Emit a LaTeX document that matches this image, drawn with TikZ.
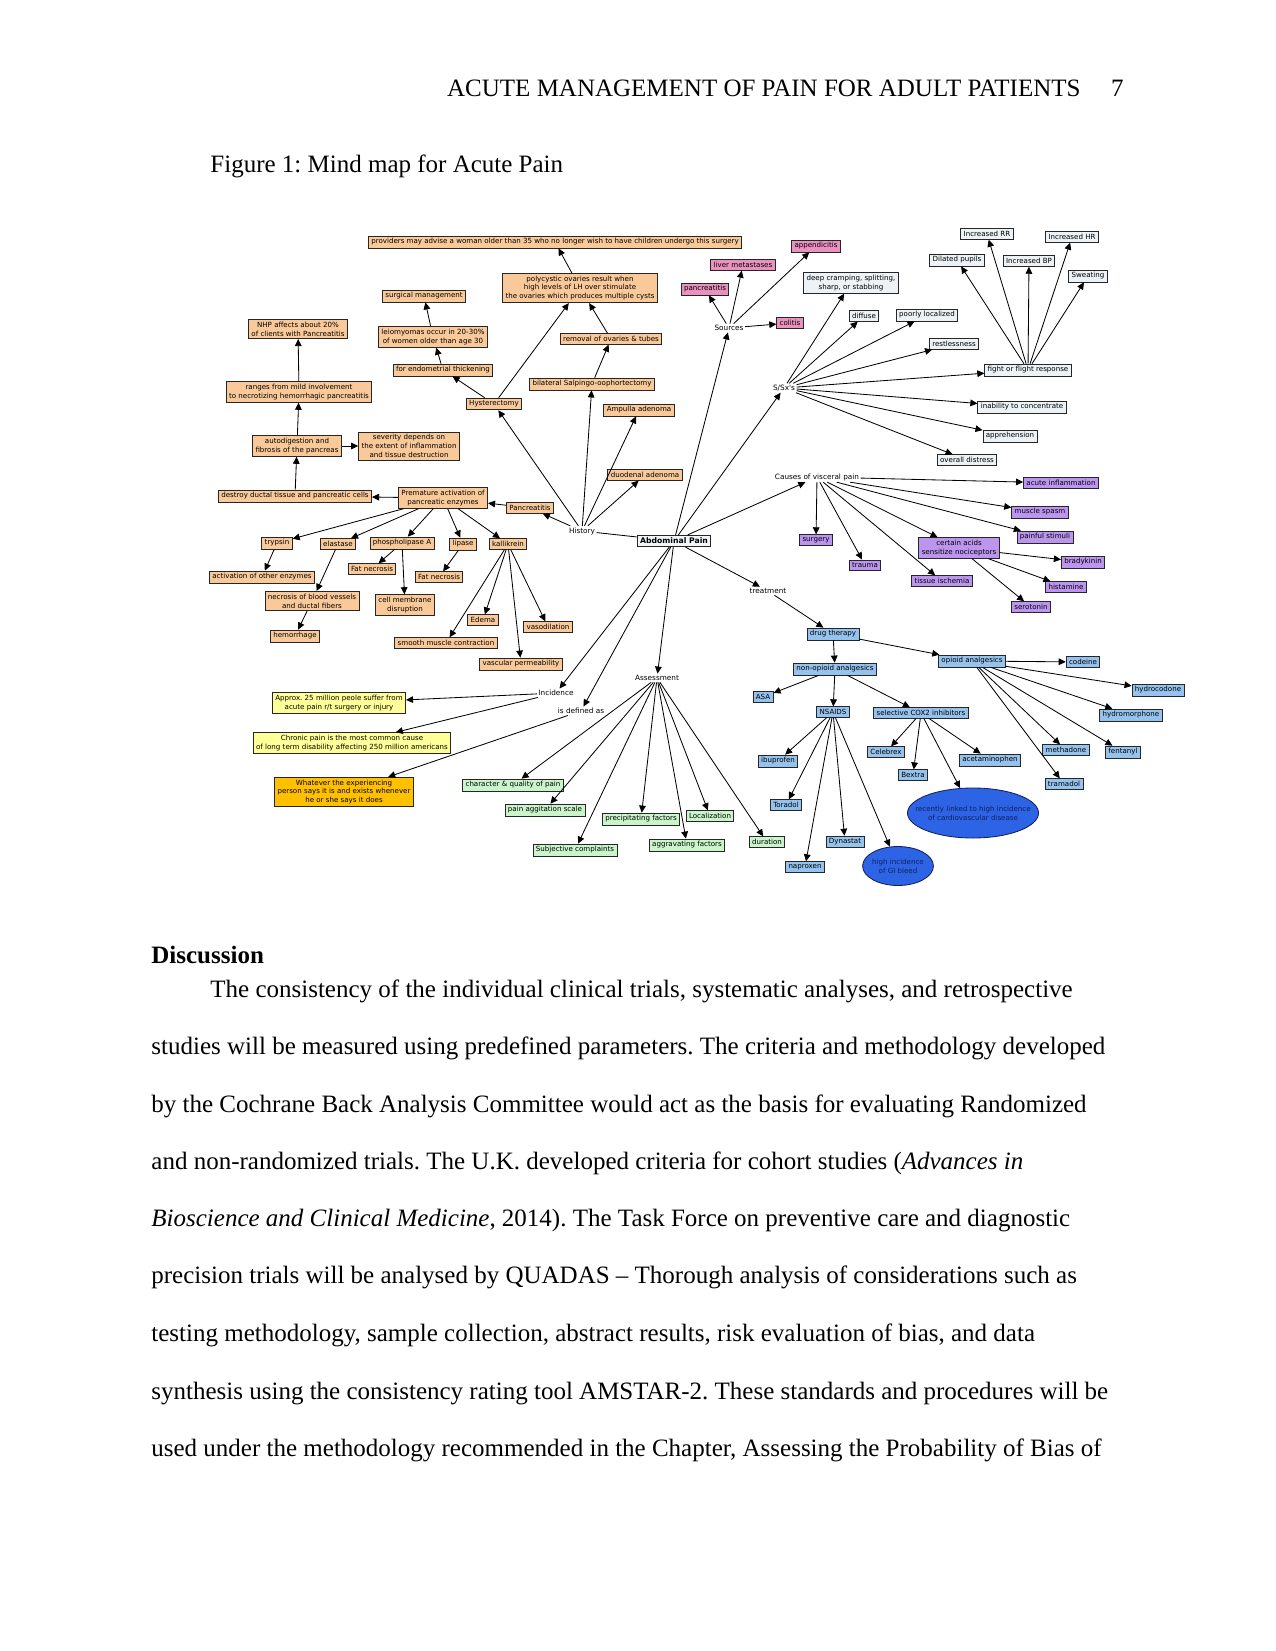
\documentclass[tikz,border=0pt]{standalone}
\usepackage{fontspec}
\setmainfont{Liberation Serif}
\newfontfamily\mapfont{DejaVu Sans}
\usetikzlibrary{arrows.meta,shapes.geometric}
\frenchspacing
\definecolor{histfill}{RGB}{249,201,153}
\definecolor{srcfill}{RGB}{234,146,190}
\definecolor{sxfill}{RGB}{236,242,245}
\definecolor{causefill}{RGB}{188,150,238}
\definecolor{rxfill}{RGB}{150,195,238}
\definecolor{ovalfill}{RGB}{45,100,230}
\definecolor{ovaltext}{RGB}{20,30,90}
\definecolor{asfill}{RGB}{202,245,202}
\definecolor{incfill}{RGB}{255,255,153}
\definecolor{deffill}{RGB}{255,192,0}
\definecolor{rootfill}{RGB}{242,246,249}
\begin{document}
\begin{tikzpicture}[x=0.48pt,y=-0.48pt,
    >={Triangle[length=3.4pt,width=3.2pt]},
    box/.style={draw=black!85,line width=0.4pt,inner xsep=1.4pt,inner ysep=1.2pt,align=center,
      font=\mapfont\fontsize{3.4}{4.2}\selectfont},
    histbox/.style={box,fill=histfill},
    srcbox/.style={box,fill=srcfill},
    sxbox/.style={box,fill=sxfill},
    causebox/.style={box,fill=causefill},
    rxbox/.style={box,fill=rxfill},
    rxoval/.style={ellipse,draw=ovaltext,line width=0.4pt,fill=ovalfill,align=center,inner ysep=0pt,
      text=ovaltext,font=\mapfont\fontsize{3.4}{4.2}\selectfont},
    asbox/.style={box,fill=asfill},
    incbox/.style={box,fill=incfill},
    defbox/.style={box,fill=deffill},
    link/.style={inner sep=0.6pt,font=\mapfont\fontsize{3.5}{4.2}\selectfont},
    conn/.style={->,line width=0.4pt},
    bodyline/.style={anchor=base west,inner sep=0pt,font=\fontsize{12}{14}\selectfont}]
\useasboundingbox (0,0) rectangle (1275,1651);

% page text
\node[anchor=base east,inner sep=0pt,font=\fontsize{12}{14}\selectfont] (head) at (1081,97) {ACUTE MANAGEMENT OF PAIN FOR ADULT PATIENTS};
\node[anchor=base east,inner sep=0pt,font=\fontsize{12}{14}\selectfont] (pageno) at (1124,97) {7};
\node[bodyline] (caption) at (210,173) {Figure 1: Mind map for Acute Pain};
\node[bodyline,font=\fontsize{12}{14}\bfseries] (disc) at (151,963) {Discussion};
\node[bodyline] (l1) at (210,997) {The consistency of the individual clinical trials, systematic analyses, and retrospective};
\node[bodyline] (l2) at (151,1054) {studies will be measured using predefined parameters. The criteria and methodology developed};
\node[bodyline] (l3) at (151,1112) {by the Cochrane Back Analysis Committee would act as the basis for evaluating Randomized};
\node[bodyline] (l4) at (151,1169) {and non-randomized trials. The U.K. developed criteria for cohort studies (\textit{Advances in}};
\node[bodyline] (l5) at (151,1226) {\textit{Bioscience and Clinical Medicine}, 2014). The Task Force on preventive care and diagnostic};
\node[bodyline] (l6) at (151,1283) {precision trials will be analysed by QUADAS – Thorough analysis of considerations such as};
\node[bodyline] (l7) at (151,1341) {testing methodology, sample collection, abstract results, risk evaluation of bias, and data};
\node[bodyline] (l8) at (151,1399) {synthesis using the consistency rating tool AMSTAR-2. These standards and procedures will be};
\node[bodyline] (l9) at (151,1456) {used under the methodology recommended in the Chapter, Assessing the Probability of Bias of};

% root and linking phrases
\node[box,fill=rootfill,line width=0.6pt,font=\mapfont\fontsize{3.7}{4.2}\bfseries] (ap) at (674,541) {Abdominal Pain};
\node[link] (hist) at (582,531) {History};
\node[link] (src) at (729,328) {Sources};
\node[link] (ssx) at (784,388) {S/Sx's};
\node[link] (caus) at (817,477) {Causes of visceral pain};
\node[link] (treat) at (768,591) {treatment};
\node[link] (assess) at (657,678) {Assessment};
\node[link] (incid) at (556,693) {Incidence};
\node[link] (defas) at (581,711) {is defined as};

% history branch
\node[histbox] (prov) at (555,242) {providers may advise a woman older than 35 who no longer wish to have children undergo this surgery};
\node[histbox] (surg) at (424,296) {surgical management};
\node[histbox] (nhp) at (298,329) {NHP affects about 20\%\\of clients with Pancreatitis};
\node[histbox] (leio) at (433,337) {leiomyomas occur in 20-30\%\\of women older than age 30};
\node[histbox] (endo) at (443,370) {for endometrial thickening};
\node[histbox] (range) at (299,392) {ranges from mild involvement\\to necrotizing hemorrhagic pancreatitis};
\node[histbox] (hyst) at (494,404) {Hysterectomy};
\node[histbox] (auto) at (297,446) {autodigestion and\\fibrosis of the pancreas};
\node[histbox] (sev) at (409,446) {severity depends on\\the extent of inflammation\\and tissue destruction};
\node[histbox] (poly) at (580,288) {polycystic ovaries result when\\high levels of LH over stimulate\\the ovaries which produces multiple cysts};
\node[histbox] (remov) at (611,339) {removal of ovaries \& tubes};
\node[histbox] (bso) at (592,384) {bilateral Salpingo-oophortectomy};
\node[histbox] (ampul) at (639,410) {Ampulla adenoma};
\node[histbox] (duod) at (645,475) {duodenal adenoma};
\node[histbox] (destr) at (295,496) {destroy ductal tissue and pancreatic cells};
\node[histbox] (prem) at (443,498) {Premature activation of\\pancreatic enzymes};
\node[histbox] (pancr) at (530,508) {Pancreatitis};
\node[histbox] (tryp) at (277,543) {trypsin};
\node[histbox] (elast) at (338,544) {elastase};
\node[histbox] (phos) at (402,543) {phospholipase A};
\node[histbox] (lip) at (463,544) {lipase};
\node[histbox] (kall) at (508,544) {kallikrein};
\node[histbox] (actv) at (262,577) {activation of other enzymes};
\node[histbox] (fatA) at (372,569) {Fat necrosis};
\node[histbox] (fatB) at (439,577) {Fat necrosis};
\node[histbox] (necr) at (312,601) {necrosis of blood vessels\\and ductal fibers};
\node[histbox] (cell) at (405,605) {cell membrane\\disruption};
\node[histbox] (hem) at (295,636) {hemorrhage};
\node[histbox] (edema) at (483,620) {Edema};
\node[histbox] (vaso) at (548,627) {vasodilation};
\node[histbox] (smooth) at (446,643) {smooth muscle contraction};
\node[histbox] (vperm) at (521,664) {vascular permeability};

% sources
\node[srcbox] (liver) at (743,265) {liver metastases};
\node[srcbox] (appen) at (816,246) {appendicitis};
\node[srcbox] (pancs) at (705,289) {pancreatitis};
\node[srcbox] (colit) at (790,323) {colitis};

% signs and symptoms
\node[sxbox] (cramp) at (851,283) {deep cramping, splitting,\\sharp, or stabbing};
\node[sxbox] (diff) at (864,316) {diffuse};
\node[sxbox] (poor) at (927,315) {poorly localized};
\node[sxbox] (restl) at (954,344) {restlessness};
\node[sxbox] (fight) at (1028,370) {fight or flight response};
\node[sxbox] (inab) at (1022,407) {inability to concentrate};
\node[sxbox] (appr) at (1010,436) {apprehension};
\node[sxbox] (distr) at (967,460) {overall distress};
\node[sxbox] (pupil) at (957,260) {Dilated pupils};
\node[sxbox] (rr) at (987,234) {Increased RR};
\node[sxbox] (bp) at (1029,261) {Increased BP};
\node[sxbox] (hr) at (1072,237) {Increased HR};
\node[sxbox] (sweat) at (1088,276) {Sweating};

% causes
\node[causebox] (acute) at (1061,483) {acute inflammation};
\node[causebox] (spasm) at (1040,512) {muscle spasm};
\node[causebox] (stim) at (1045,537) {painful stimuli};
\node[causebox] (acids) at (959,548) {certain acids\\sensitize nociceptors};
\node[causebox] (brady) at (1083,562) {bradykinin};
\node[causebox] (hista) at (1066,587) {histamine};
\node[causebox] (sero) at (1031,607) {serotonin};
\node[causebox] (isch) at (942,581) {tissue ischemia};
\node[causebox] (surgy) at (816,540) {surgery};
\node[causebox] (traum) at (865,565) {trauma};

% treatment
\node[rxbox] (drug) at (833,634) {drug therapy};
\node[rxbox] (nonop) at (835,669) {non-opioid analgesics};
\node[rxbox] (opio) at (972,661) {opioid analgesics};
\node[rxbox] (code) at (1083,662) {codeine};
\node[rxbox] (hcod) at (1158,690) {hydrocodone};
\node[rxbox] (hmor) at (1131,715) {hydromorphone};
\node[rxbox] (cox) at (921,713) {selective COX2 inhibitors};
\node[rxbox] (celeb) at (886,752) {Celebrex};
\node[rxbox] (bext) at (913,775) {Bextra};
\node[rxbox] (acet) at (990,760) {acetaminophen};
\node[rxbox] (meth) at (1066,750) {methadone};
\node[rxbox] (fent) at (1123,752) {fentanyl};
\node[rxbox] (tram) at (1064,784) {tramadol};
\node[rxbox] (asa) at (763,697) {ASA};
\node[rxbox] (nsaid) at (833,712) {NSAIDS};
\node[rxbox] (ibu) at (778,761) {ibuprofen};
\node[rxbox] (tora) at (786,805) {Toradol};
\node[rxbox] (napr) at (805,867) {naproxen};
\node[rxbox] (dyna) at (845,842) {Dynastat};
\node[rxoval,inner xsep=-6pt,minimum width=62.9pt,minimum height=24pt] (cardio) at (973,813) {recently linked to high incidence\\of cardiovascular disease};
\node[rxoval,inner xsep=-0.5pt,minimum width=34pt,minimum height=18.7pt] (gib) at (898,866) {high incidence\\of GI bleed};

% assessment
\node[asbox] (charq) at (513,785) {character \& quality of pain};
\node[asbox] (agit) at (545,810) {pain aggitation scale};
\node[asbox] (subj) at (575,850) {Subjective complaints};
\node[asbox] (precip) at (641,819) {precipitating factors};
\node[asbox] (local) at (710,816) {Localization};
\node[asbox] (aggr) at (687,845) {aggravating factors};
\node[asbox] (durat) at (767,842) {duration};

% incidence and definition
\node[incbox] (approx) at (339,703) {Approx. 25 million peole suffer from\\acute pain r/t surgery or injury};
\node[incbox] (chron) at (352,743) {Chronic pain is the most common cause\\of long term disability affecting 250 million americans};
\node[defbox] (whatev) at (344,792) {Whatever the experiencing\\person says it is and exists whenever\\he or she says it does};

% connectors
\draw[line width=0.4pt] (ap) -- (hist);
\foreach \t in {src,ssx,caus,treat,assess,incid,defas} \draw[conn] (ap) -- (\t);
\foreach \t in {pancr,hyst,bso,ampul,duod} \draw[conn] (hist) -- (\t);
\draw[conn] (hyst) -- (endo);
\draw[conn] (hyst) -- (poly);
\draw[conn] (endo) -- (leio);
\draw[conn] (leio) -- (surg);
\draw[conn] (bso) -- (remov);
\draw[conn] (remov) -- (poly);
\draw[conn] (poly) -- (prov);
\draw[conn] (pancr) -- (prem);
\foreach \t in {destr,tryp,elast,phos,lip,kall} \draw[conn] (prem) -- (\t);
\draw[conn] (destr) -- (auto);
\draw[conn] (auto) -- (range);
\draw[conn] (auto) -- (sev);
\draw[conn] (range) -- (nhp);
\draw[conn] (tryp) -- (actv);
\draw[conn] (elast) -- (necr);
\draw[conn] (necr) -- (hem);
\draw[conn] (phos) -- (fatA);
\draw[conn] (phos) -- (cell);
\draw[conn] (lip) -- (fatB);
\foreach \t in {smooth,edema,vperm,vaso} \draw[conn] (kall) -- (\t);
\foreach \t in {pancs,liver,appen,colit} \draw[conn] (src) -- (\t);
\foreach \t in {cramp,diff,poor,restl,fight,inab,appr,distr} \draw[conn] (ssx) -- (\t);
\foreach \t in {pupil,rr,bp,hr,sweat} \draw[conn] (fight) -- (\t);
\foreach \t in {acute,spasm,stim,acids,isch,traum,surgy} \draw[conn] (caus) -- (\t);
\foreach \t in {brady,hista,sero} \draw[conn] (acids) -- (\t);
\draw[conn] (treat) -- (drug);
\draw[conn] (drug) -- (nonop);
\draw[conn] (drug) -- (opio);
\foreach \t in {asa,nsaid,cox} \draw[conn] (nonop) -- (\t);
\foreach \t in {ibu,tora,napr,dyna,gib} \draw[conn] (nsaid) -- (\t);
\foreach \t in {celeb,bext,cardio,acet} \draw[conn] (cox) -- (\t);
\foreach \t in {code,hcod,hmor,fent,meth,tram} \draw[conn] (opio) -- (\t);
\foreach \t in {charq,agit,subj,precip,aggr,local,durat} \draw[conn] (assess) -- (\t);
\draw[conn] (incid) -- (approx);
\draw[conn] (incid) -- (chron);
\draw[conn] (defas) -- (whatev);
\end{tikzpicture}
\end{document}
